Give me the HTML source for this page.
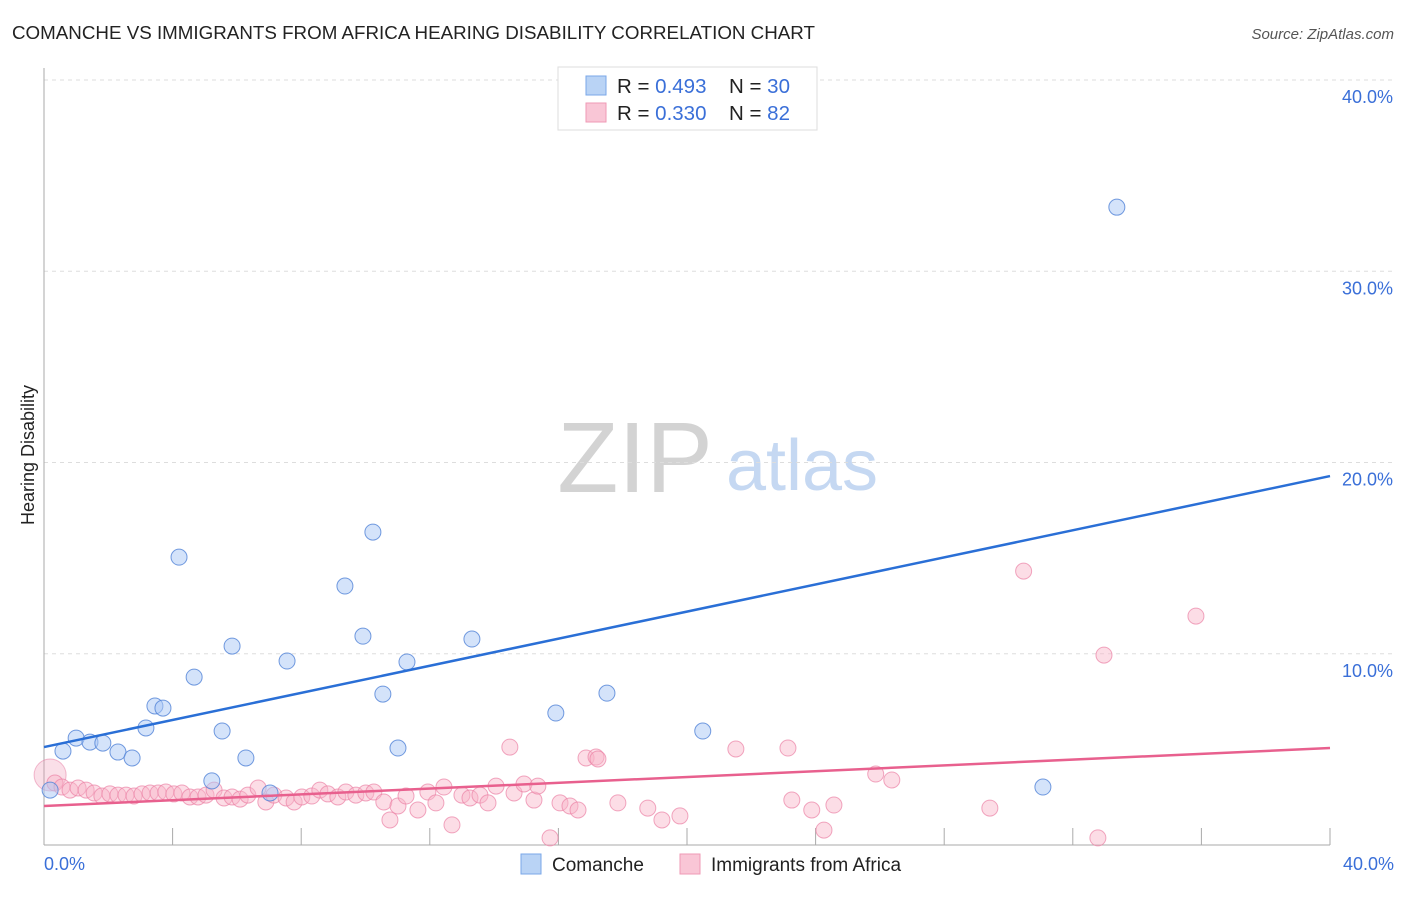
<!DOCTYPE html>
<html><head><meta charset="utf-8"><style>
body{margin:0;background:#fff;font-family:"Liberation Sans",sans-serif;}
svg text{font-family:"Liberation Sans",sans-serif;}
</style></head><body>
<svg id="chart" width="1406" height="892" viewBox="0 0 1406 892">
<text x="12" y="39" font-size="18" fill="#222" textLength="803" lengthAdjust="spacingAndGlyphs">COMANCHE VS IMMIGRANTS FROM AFRICA HEARING DISABILITY CORRELATION CHART</text>
<text x="1394" y="39" font-size="15" fill="#555" text-anchor="end" font-style="italic">Source: ZipAtlas.com</text>
<g>
<text x="635" y="492" font-size="100" fill="#d3d3d3" text-anchor="middle" font-family="Liberation Serif, serif">ZIP</text>
<text x="802" y="490" font-size="72" fill="#c5d8f2" text-anchor="middle">atlas</text>
</g>
<g id="grid"></g>
<g id="axes"></g>
<g id="marks"></g>
<text transform="translate(34,455) rotate(-90)" font-size="18" fill="#222" text-anchor="middle">Hearing Disability</text>
<g>
<rect x="558" y="67" width="259" height="63" fill="#fff" stroke="#ddd"/>
<rect x="586" y="76" width="20" height="19" fill="#b9d3f5" stroke="#7aa7e8"/>
<rect x="586" y="103" width="20" height="19" fill="#f9c6d6" stroke="#ef9ab5"/>
<text x="617" y="93" font-size="20.5" fill="#222">R = <tspan fill="#3a6fd8">0.493</tspan><tspan x="729">N = </tspan><tspan fill="#3a6fd8">30</tspan></text>
<text x="617" y="120" font-size="20.5" fill="#222">R = <tspan fill="#3a6fd8">0.330</tspan><tspan x="729">N = </tspan><tspan fill="#3a6fd8">82</tspan></text>
</g>
<g>
<rect x="521" y="854" width="20" height="20" fill="#b9d3f5" stroke="#7aa7e8"/>
<text x="552" y="871" font-size="19" fill="#222">Comanche</text>
<rect x="680" y="854" width="20" height="20" fill="#f9c6d6" stroke="#ef9ab5"/>
<text x="711" y="871" font-size="19" fill="#222">Immigrants from Africa</text>
</g>
</svg>
<script>
const yTicks=[10,20,30,40];
const yTickLabels=["10.0%","20.0%","30.0%","40.0%"];
const xTickLabels=["0.0%","40.0%"];
const comancheX=[0.19,0.59,1.00,1.43,1.83,2.30,2.74,3.17,3.45,3.70,4.20,4.67,5.22,5.54,5.85,6.28,7.03,7.56,9.36,9.92,10.23,10.54,11.01,11.29,13.31,15.92,17.51,20.49,31.07,33.37];
const comancheY=[2.87,4.91,5.59,5.38,5.33,4.86,4.55,6.12,7.27,7.16,15.05,8.78,3.35,5.96,10.40,4.55,2.72,9.62,13.54,10.92,16.36,7.89,5.07,9.57,10.77,6.90,7.94,5.96,3.03,33.35];
const africaX=[0.34,0.56,0.81,1.06,1.31,1.56,1.80,2.05,2.30,2.55,2.80,3.05,3.30,3.55,3.79,4.04,4.29,4.54,4.79,5.04,5.29,5.60,5.85,6.10,6.34,6.66,6.90,7.15,7.53,7.78,8.02,8.33,8.58,8.83,9.14,9.39,9.70,10.01,10.26,10.57,10.76,11.01,11.26,11.63,11.94,12.19,12.44,12.69,13.00,13.25,13.56,13.81,14.06,14.49,14.62,14.93,15.24,15.36,15.74,16.05,16.36,16.61,16.86,17.17,17.23,17.85,18.78,19.22,19.78,21.52,23.14,23.26,23.88,24.26,24.57,25.87,26.37,29.42,30.47,32.78,32.97,35.83];
const africaY=[3.24,3.03,2.87,2.98,2.87,2.72,2.56,2.67,2.61,2.61,2.56,2.67,2.72,2.72,2.77,2.67,2.72,2.51,2.51,2.61,2.87,2.46,2.51,2.40,2.61,2.98,2.25,2.61,2.46,2.25,2.51,2.56,2.87,2.67,2.51,2.77,2.61,2.72,2.77,2.25,1.31,2.04,2.56,1.83,2.77,2.20,3.03,1.05,2.61,2.46,2.61,2.20,3.08,5.12,2.72,3.19,2.35,3.08,0.37,2.20,2.04,1.83,4.55,4.60,4.50,2.20,1.93,1.31,1.52,5.02,5.07,2.35,1.83,0.78,2.09,3.71,3.40,1.93,14.32,0.37,9.93,11.97];
const comancheTrend=[5.12,19.29];
const africaTrend=[2.04,5.07];
const NS='http://www.w3.org/2000/svg';
const X0=44,X1=1330,Y0=845,Y40=80;
const sx=v=>X0+(v/40)*(X1-X0);
const sy=v=>Y0-(v/40)*(Y0-Y40);
function mk(tag,attrs,parent){const e=document.createElementNS(NS,tag);for(const k in attrs)e.setAttribute(k,attrs[k]);parent.appendChild(e);return e;}
const grid=document.getElementById('grid'),axes=document.getElementById('axes'),marks=document.getElementById('marks');
yTicks.forEach((t,i)=>{
  const l=mk('line',{x1:X0,x2:1395,y1:sy(t),y2:sy(t),stroke:'#ddd','stroke-dasharray':'4,4'},grid);
  
  
  const tx=mk('text',{x:1393,y:sy(t)+23,'font-size':18,fill:'#3a6fd8','text-anchor':'end'},axes);
  tx.textContent=yTickLabels[i];
  
  
});
const ya=mk('line',{x1:X0,x2:X0,y1:68,y2:Y0,stroke:'#aaa'},axes);


const xa=mk('line',{x1:X0,x2:X1,y1:Y0,y2:Y0,stroke:'#aaa'},axes);


for(let v=4;v<=40;v+=4){
  const tk=mk('line',{x1:sx(v),x2:sx(v),y1:828,y2:Y0,stroke:'#aaa'},axes);
  
  
}
[[0,'start',44],[40,'end',1394]].forEach((a,i)=>{
  const tx=mk('text',{x:a[2],y:870,'font-size':18,fill:'#3a6fd8','text-anchor':a[1]},axes);
  tx.textContent=xTickLabels[i];
  
  
});
const big=mk('circle',{cx:sx(0.19),cy:sy(3.66),r:16,fill:'rgba(240,150,180,0.3)',stroke:'rgba(230,120,160,0.5)'},marks);


africaX.forEach((x,i)=>{
  const c=mk('circle',{cx:sx(x),cy:sy(africaY[i]),r:8,fill:'rgba(248,180,200,0.45)',stroke:'rgba(235,130,165,0.7)','stroke-width':1},marks);
  
  
});
comancheX.forEach((x,i)=>{
  const c=mk('circle',{cx:sx(x),cy:sy(comancheY[i]),r:8,fill:'rgba(170,200,245,0.5)',stroke:'rgba(80,130,215,0.8)','stroke-width':1},marks);
  
  
});
const tl1=mk('line',{x1:sx(0),x2:sx(40),y1:sy(comancheTrend[0]),y2:sy(comancheTrend[1]),stroke:'#2a6fd6','stroke-width':2.5},marks);


const tl2=mk('line',{x1:sx(0),x2:sx(40),y1:sy(africaTrend[0]),y2:sy(africaTrend[1]),stroke:'#e8608e','stroke-width':2.5},marks);


</script>
</body></html>
